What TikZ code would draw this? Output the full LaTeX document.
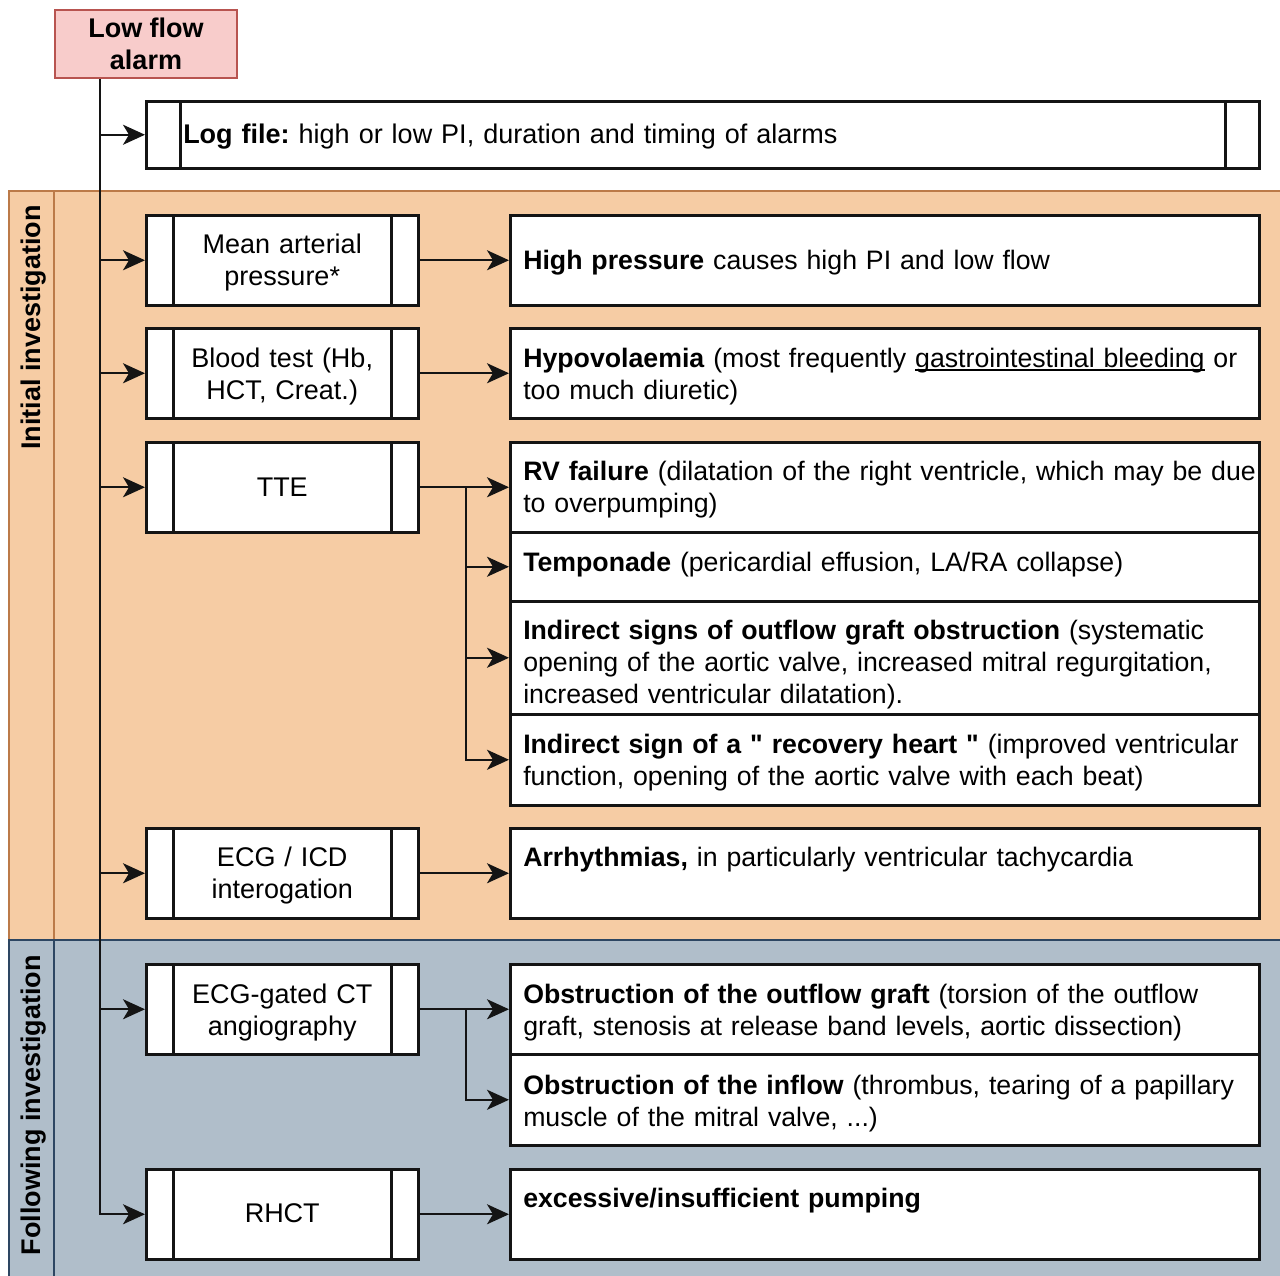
\documentclass[tikz,border=0pt]{standalone}
\usepackage{fontspec}
\setmainfont{Liberation Sans}
\usetikzlibrary{arrows.meta}
\definecolor{orfill}{RGB}{246,204,164}
\definecolor{ordraw}{RGB}{188,122,72}
\definecolor{blfill}{RGB}{176,190,202}
\definecolor{bldraw}{RGB}{45,70,98}
\definecolor{alfill}{RGB}{248,204,203}
\definecolor{aldraw}{RGB}{184,84,80}
\definecolor{ink}{RGB}{20,20,20}
\newcommand\myul[1]{\setbox0\hbox{#1}\rlap{\rule[-3.5pt]{\wd0}{1.5pt}}\box0\relax}
\newcommand\oneln[1]{\mbox{#1}}
\begin{document}
\frenchspacing
\begin{tikzpicture}[x=1pt,y=-1pt,
  font=\fontsize{27}{32}\selectfont\frenchspacing,
  box/.style={draw=ink, line width=2.5pt, fill=white, inner sep=0pt},
  lbox/.style={box, anchor=north west, minimum width=272pt, minimum height=90pt, text width=218pt, inner xsep=27pt, align=center,
    path picture={
      \draw[ink, line width=2.5pt] ([xshift=27pt]path picture bounding box.north west) -- ([xshift=27pt]path picture bounding box.south west);
      \draw[ink, line width=2.5pt] ([xshift=-27pt]path picture bounding box.north east) -- ([xshift=-27pt]path picture bounding box.south east);}},
  rbox/.style={box, anchor=north west, text width=723pt, inner xsep=13pt, align=left, font=\fontsize{26.7}{32}\selectfont\frenchspacing},
  sp/.style 2 args={execute at begin node={\rule{0pt}{#1pt}}, execute at end node={\rule[-#2pt]{0pt}{#2pt}}},
  conn/.style={draw=ink, line width=2pt},
  arr/.style={conn, -{Stealth[length=22pt,width=20pt,inset=6pt]}},
  lanetitle/.style={rotate=90, anchor=east, inner sep=0pt, font=\fontsize{27}{32}\selectfont\bfseries}
]
\useasboundingbox (0,0) rectangle (1280,1275);
\clip (0,0) rectangle (1280,1275);

% swimlanes
\fill[orfill] (9,191) rectangle (1295,940);
\draw[ordraw, line width=2pt] (9,191) rectangle (1295,940);
\draw[ordraw, line width=2pt] (54,191) -- (54,940);
\fill[blfill] (9,940) rectangle (1295,1295);
\draw[bldraw, line width=2pt] (9,940) rectangle (1295,1295);
\draw[bldraw, line width=2pt] (54,940) -- (54,1295);
\node[lanetitle] (t1) at (34,205) {Initial investigation};
\node[lanetitle] (t2) at (34,955) {Following investigation};

% alarm
\node[draw=aldraw, fill=alfill, line width=2pt, anchor=north west, minimum width=182pt, minimum height=68pt,
  align=center, inner sep=0pt, font=\fontsize{27}{32}\selectfont\bfseries] (alarm) at (54,9) {Low flow\\alarm};

% log file
\node[box, anchor=north west, minimum height=67pt, text width=1039pt, inner xsep=37pt, align=left, sp={26}{8},
  path picture={
      \draw[ink, line width=2.5pt] ([xshift=34pt]path picture bounding box.north west) -- ([xshift=34pt]path picture bounding box.south west);
      \draw[ink, line width=2.5pt] ([xshift=-34pt]path picture bounding box.north east) -- ([xshift=-34pt]path picture bounding box.south east);}]
  (log) at (145,100) {\oneln{\textbf{Log file:} high or low PI, duration and timing of alarms}};

% left boxes
\node[lbox, sp={26}{8}] (map) at (145,214) {Mean arterial\\pressure*};
\node[lbox, sp={28}{8}] (blood) at (145,327) {Blood test (Hb,\\HCT, Creat.)};
\node[lbox, sp={26}{8}] (tte) at (145,441) {TTE};
\node[lbox, sp={26}{8}] (ecg) at (145,827) {ECG / ICD\\interogation};
\node[lbox, sp={28}{8}] (ct) at (145,963) {ECG-gated CT\\angiography};
\node[lbox, sp={24}{8}] (rhct) at (145,1168) {RHCT};

% right boxes
\node[rbox, minimum height=90pt, sp={26}{8}] (hp) at (509,214) {\oneln{\textbf{High pressure} causes high PI and low flow}};
\node[rbox, minimum height=90pt, sp={28}{8}] (hyp) at (509,327) {\oneln{\textbf{Hypovolaemia} (most frequently \myul{gastrointestinal bleeding} or}\\\oneln{too much diuretic)}};
\node[rbox, minimum height=90pt, sp={26}{8}] (rv) at (509,441) {\oneln{\textbf{RV failure} (dilatation of the right ventricle, which may be due}\\\oneln{to overpumping)}};
\node[rbox, minimum height=69pt, sp={20}{11}] (tam) at (509,531) {\oneln{\textbf{Temponade} (pericardial effusion, LA/RA collapse)}};
\node[rbox, minimum height=113pt, sp={35}{8}] (ind) at (509,600) {\oneln{\textbf{Indirect signs of outflow graft obstruction} (systematic}\\\oneln{opening of the aortic valve, increased mitral regurgitation,}\\\oneln{increased ventricular dilatation).}};
\node[rbox, minimum height=91pt, sp={27}{8}] (rec) at (509,713) {\oneln{\textbf{Indirect sign of a \textquotedbl{} recovery heart \textquotedbl} (improved ventricular}\\\oneln{function, opening of the aortic valve with each beat)}};
\node[rbox, minimum height=90pt, sp={20}{34}] (arrh) at (509,827) {\oneln{\textbf{Arrhythmias,} in particularly ventricular tachycardia}};
\node[rbox, minimum height=90pt, sp={28}{8}] (outg) at (509,963) {\oneln{\textbf{Obstruction of the outflow graft} (torsion of the outflow}\\\oneln{graft, stenosis at release band levels, aortic dissection)}};
\node[rbox, minimum height=91pt, sp={29}{8}] (inf) at (509,1053) {\oneln{\textbf{Obstruction of the inflow} (thrombus, tearing of a papillary}\\\oneln{muscle of the mitral valve, ...)}};
\node[rbox, minimum height=90pt, sp={20}{34}] (exc) at (509,1168) {\oneln{\textbf{excessive/insufficient pumping}}};

% trunk
\coordinate (trunk) at ([xshift=46pt]alarm.south west);
\draw[arr] (trunk) |- (rhct.west);
\draw[arr] (trunk |- log.west) -- (log.west);
\draw[arr] (trunk |- map.west) -- (map.west);
\draw[arr] (trunk |- blood.west) -- (blood.west);
\draw[arr] (trunk |- tte.west) -- (tte.west);
\draw[arr] (trunk |- ecg.west) -- (ecg.west);
\draw[arr] (trunk |- ct.west) -- (ct.west);

% left to right
\draw[arr] (map.east) -- (hp.west);
\draw[arr] (blood.east) -- (hyp.west);
\draw[arr] (tte.east) -- (rv.west);
\draw[arr] (ecg.east) -- (arrh.west);
\draw[arr] (ct.east) -- (outg.west);
\draw[arr] (rhct.east) -- (exc.west);

% branches
\coordinate (b1) at ([xshift=46pt]tte.east);
\draw[arr] (b1) |- (rec.west);
\draw[arr] (b1 |- tam.west) -- (tam.west);
\draw[arr] (b1 |- ind.west) -- (ind.west);
\coordinate (b2) at ([xshift=46pt]ct.east);
\draw[arr] (b2) |- (inf.west);
\end{tikzpicture}
\end{document}
